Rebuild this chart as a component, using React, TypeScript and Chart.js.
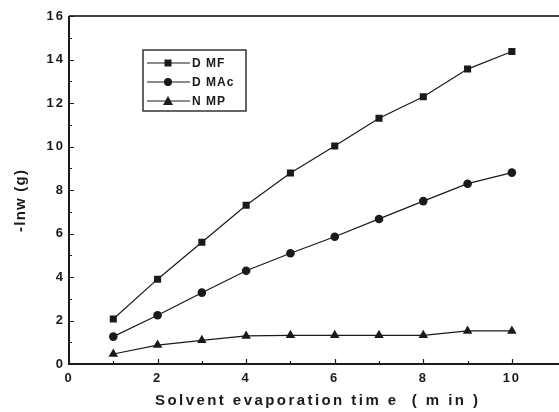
import React, { useEffect, useRef } from "react";
import { Chart, registerables } from "chart.js";

Chart.register(...registerables);

const timeMin = [1, 2, 3, 4, 5, 6, 7, 8, 9, 10];
const dmfValues = [2.07, 3.9, 5.6, 7.3, 8.78, 10.02, 11.3, 12.29, 13.56, 14.37];
const dmacValues = [1.26, 2.24, 3.28, 4.29, 5.09, 5.85, 6.67, 7.49, 8.29, 8.8];
const nmpValues = [0.46, 0.87, 1.09, 1.29, 1.32, 1.32, 1.32, 1.32, 1.52, 1.52];
const seriesNames = ["DMF", "DMAc", "NMP"];
const legendLabels = ["D MF", "D MAc", "N MP"];
const xTitle = "Solvent evaporation tim e  ( m in )";
const yTitle = "-lnw (g)";

const INK = "#1a1a1a";
const FONT = "'Liberation Sans', Arial, sans-serif";

const spacingPlugin = {
  id: "spacingPlugin",
  beforeDraw(chart: any) {
    (chart.ctx as any).letterSpacing = "2px";
  },
};

const framePlugin = {
  id: "framePlugin",
  afterDraw(chart: any) {
    const ctx = chart.ctx;
    const { left, top, bottom } = chart.chartArea;
    const xs = chart.scales.x;
    const ys = chart.scales.y;
    ctx.save();
    ctx.strokeStyle = "#444";
    ctx.lineWidth = 2;
    ctx.beginPath();
    ctx.moveTo(left, top);
    ctx.lineTo(chart.width, top);
    ctx.stroke();
    ctx.strokeStyle = INK;
    ctx.beginPath();
    ctx.moveTo(left, top);
    ctx.lineTo(left, bottom);
    ctx.lineTo(chart.width, bottom);
    ctx.stroke();
    ctx.lineWidth = 1.2;
    ctx.beginPath();
    for (let v = 0; v <= 16; v++) {
      const y = Math.round(ys.getPixelForValue(v)) + 0.5;
      const len = v % 2 === 0 ? 5 : 3;
      ctx.moveTo(left, y);
      ctx.lineTo(left + len, y);
    }
    for (let v = 0; v <= 10; v++) {
      const x = Math.round(xs.getPixelForValue(v)) + 0.5;
      const len = v % 2 === 0 ? 5 : 3;
      ctx.moveTo(x, bottom);
      ctx.lineTo(x, bottom - len);
    }
    ctx.stroke();

    // legend
    const bx = 143, by = 50, bw = 103, bh = 61;
    ctx.fillStyle = "#fff";
    ctx.fillRect(bx, by, bw, bh);
    ctx.strokeStyle = "#333";
    ctx.lineWidth = 1.5;
    ctx.strokeRect(bx, by, bw, bh);
    const rows = [63, 82, 101];
    const styles = ["rect", "circle", "triangle"];
    ctx.font = `bold 12px ${FONT}`;
    ctx.textBaseline = "middle";
    ctx.textAlign = "left";
    (ctx as any).letterSpacing = "1px";
    rows.forEach((ry, i) => {
      ctx.strokeStyle = INK;
      ctx.lineWidth = 1.2;
      ctx.beginPath();
      ctx.moveTo(147, ry);
      ctx.lineTo(190, ry);
      ctx.stroke();
      ctx.fillStyle = INK;
      const cx = 168;
      if (styles[i] === "rect") {
        ctx.fillRect(cx - 3.5, ry - 3.5, 7, 7);
      } else if (styles[i] === "circle") {
        ctx.beginPath();
        ctx.arc(cx, ry, 4, 0, Math.PI * 2);
        ctx.fill();
      } else {
        ctx.beginPath();
        ctx.moveTo(cx, ry - 5);
        ctx.lineTo(cx + 5, ry + 4);
        ctx.lineTo(cx - 5, ry + 4);
        ctx.closePath();
        ctx.fill();
      }
      ctx.fillText(legendLabels[i], 192, ry + 1);
    });

    // x title
    ctx.font = `bold 15px ${FONT}`;
    (ctx as any).letterSpacing = "0px";
    const w0 = ctx.measureText(xTitle).width;
    const sp = (323 - w0) / (xTitle.length - 1);
    (ctx as any).letterSpacing = `${sp}px`;
    ctx.textAlign = "left";
    ctx.textBaseline = "middle";
    ctx.fillText(xTitle, 155, 401);

    // y title
    ctx.font = `bold 15px ${FONT}`;
    (ctx as any).letterSpacing = "0px";
    const w1 = ctx.measureText(yTitle).width;
    const sp1 = Math.max(0, (62 - w1) / (yTitle.length - 1));
    (ctx as any).letterSpacing = `${sp1}px`;
    ctx.translate(21, 232);
    ctx.rotate(-Math.PI / 2);
    ctx.textAlign = "left";
    ctx.fillText(yTitle, 0, 0);
    ctx.restore();
  },
};

export default function App() {
  const ref = useRef<HTMLCanvasElement | null>(null);
  useEffect(() => {
    document.body.style.margin = "0";
    const canvas = ref.current;
    if (!canvas) return;
    const mk = (label: string, data: number[], style: string, r: number) => ({
      label,
      data: timeMin.map((x, i) => ({ x, y: data[i] })),
      borderColor: INK,
      backgroundColor: INK,
      borderWidth: 1.2,
      pointStyle: style,
      pointRadius: r,
      pointBorderWidth: 0,
      pointBackgroundColor: INK,
      showLine: true,
      tension: 0,
    });
    const chart = new Chart(canvas, {
      type: "scatter",
      data: {
        datasets: [
          mk(seriesNames[0], dmfValues, "rect", 5),
          mk(seriesNames[1], dmacValues, "circle", 4.3),
          mk(seriesNames[2], nmpValues, "triangle", 5.5),
        ],
      },
      options: {
        responsive: false,
        animation: false,
        devicePixelRatio: 1,
        layout: { padding: { left: 0, top: 16, right: 0, bottom: 0 } },
        plugins: { legend: { display: false }, tooltip: { enabled: false } },
        scales: {
          x: {
            type: "linear",
            min: 0,
            max: 10.94,
            grid: { display: false, drawTicks: false },
            border: { display: false },
            ticks: {
              stepSize: 2,
              includeBounds: false,
              padding: 7,
              color: INK,
              font: { family: FONT, size: 13, weight: "bold" },
              maxRotation: 0,
            },
            afterFit: (s: any) => {
              s.height = 48;
            },
          },
          y: {
            type: "linear",
            min: 0,
            max: 16,
            grid: { display: false, drawTicks: false },
            border: { display: false },
            ticks: {
              stepSize: 2,
              padding: 4,
              color: INK,
              font: { family: FONT, size: 13, weight: "bold" },
            },
            afterFit: (s: any) => {
              s.width = 69;
            },
          },
        },
      },
      plugins: [spacingPlugin, framePlugin],
    } as any);
    return () => chart.destroy();
  }, []);
  return (
    <div style={{ width: 559, height: 412, background: "#fff" }}>
      <canvas ref={ref} width={559} height={412} style={{ display: "block" }} />
    </div>
  );
}
